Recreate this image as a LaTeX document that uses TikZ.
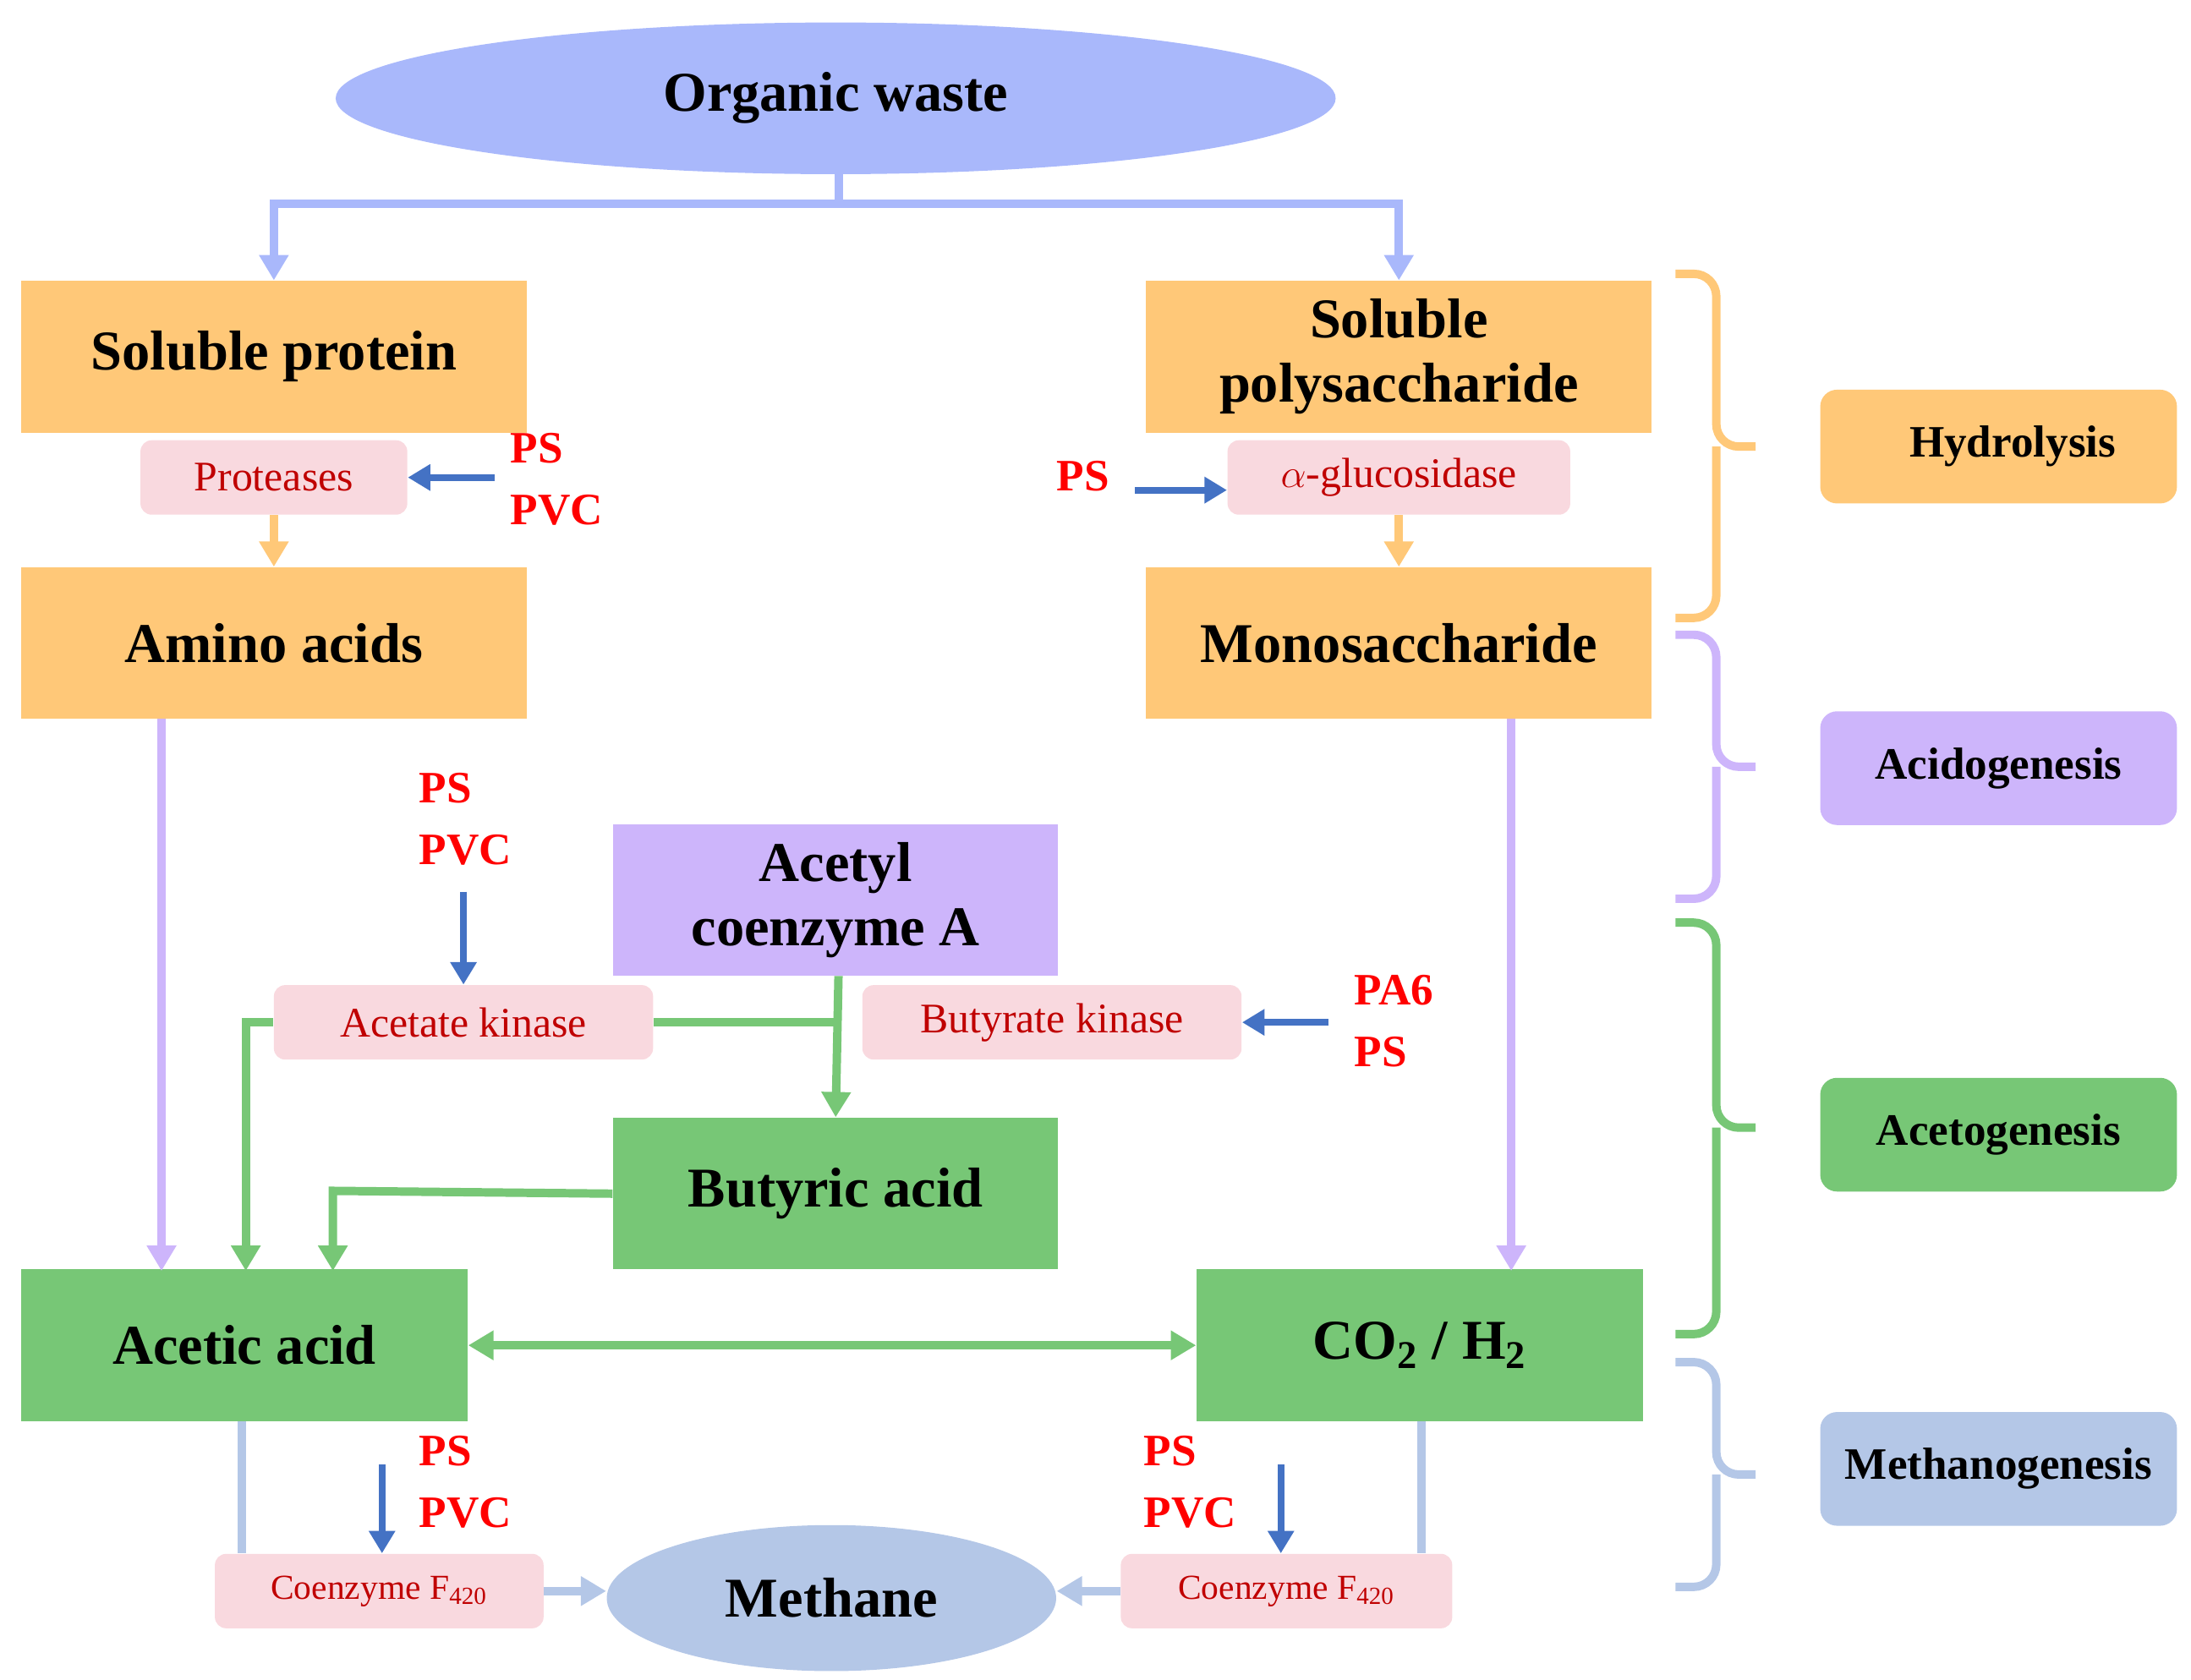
\documentclass[tikz,border=0pt]{standalone}
\usepackage{fontspec}
\setmainfont{Liberation Serif}
\usetikzlibrary{arrows.meta,shapes.geometric}
\definecolor{ow}{HTML}{A9B8FB}
\definecolor{org}{HTML}{FFC878}
\definecolor{pnk}{HTML}{F9D9DF}
\definecolor{drd}{HTML}{C00000}
\definecolor{blu}{HTML}{4472C4}
\definecolor{pur}{HTML}{CDB5FB}
\definecolor{grn}{HTML}{77C776}
\definecolor{lbl}{HTML}{B4C7E7}
\begin{document}
\begin{tikzpicture}[x=0.5pt,y=-0.5pt,
 box/.style={draw=none,inner sep=0pt,font=\fontsize{20}{23}\selectfont\bfseries,align=center},
 enz/.style={fill=pnk,rounded corners=4pt,inner sep=0pt,minimum height=26.5pt,text=drd,font=\fontsize{15}{18}\selectfont},
 mp/.style={text=red,font=\fontsize{16}{22}\selectfont\bfseries,align=left,anchor=north west,inner sep=0pt},
 lab/.style={rounded corners=6pt,inner sep=0pt,minimum width=127pt,minimum height=40.5pt,font=\fontsize{16}{19}\selectfont\bfseries},
 ar/.style={line width=3pt,-{Triangle[length=9pt,width=10pt]}},
 ba/.style={blu,line width=2.5pt,-{Triangle[length=8pt,width=9pt]}},
 br/.style={line width=3pt,rounded corners=8pt}]
\useasboundingbox (0,0) rectangle (1560,1196);
% top
\node[box,ellipse,fill=ow,minimum width=356pt,minimum height=54pt] (ow) at (595,70) {Organic waste};
\node[box,fill=org,minimum width=180pt,minimum height=54pt] (sp) at (195,254) {Soluble protein};
\node[box,fill=org,minimum width=180pt,minimum height=54pt] (sps) at (996,254) {Soluble\\polysaccharide};
\node[enz,minimum width=95pt] (prot) at (195,340) {Proteases};
\node[enz,minimum width=122pt] (glu) at (996,340) {$\alpha$-glucosidase};
\node[box,fill=org,minimum width=180pt,minimum height=54pt] (aa) at (195,458) {Amino acids};
\node[box,fill=org,minimum width=180pt,minimum height=54pt] (ms) at (996,458) {Monosaccharide};
\draw[ow,line width=3pt] (597,122) -- (597,145) coordinate (tj);
\draw[ow,ar] (tj) -| (sp.north);
\draw[ow,ar] (tj) -| (sps.north);
\draw[org,ar] (prot.south) -- (aa.north);
\draw[org,ar] (glu.south) -- (ms.north);
\node[mp] (p1) at (363,308) {PS\\PVC};
\coordinate (p1a) at (352,340);
\draw[ba] (p1a) -- (prot.east);
\node[mp] (p2) at (752,328) {PS};
\coordinate (p2a) at (808,349);
\draw[ba] (p2a) -- (glu.west|-p2a);
% middle
\node[box,fill=pur,minimum width=158.5pt,minimum height=54pt] (acoa) at (595,641) {Acetyl\\coenzyme A};
\node[enz,minimum width=135pt] (ak) at (330,728) {Acetate kinase};
\node[enz,minimum width=135pt] (bk) at (749,728) {Butyrate kinase};
\node[box,fill=grn,minimum width=158.5pt,minimum height=54pt] (ba) at (595,850) {Butyric acid};
\node[box,fill=grn,minimum width=159pt,minimum height=54pt] (ac) at (174,958) {Acetic acid};
\node[box,fill=grn,minimum width=159pt,minimum height=54pt] (co) at (1011,958) {CO\textsubscript{2} / H\textsubscript{2}};
\node[mp] (p3) at (298,550) {PS\\PVC};
\coordinate (p3a) at (330,635);
\draw[ba] (p3a) -- (ak.north);
\node[mp] (p4) at (964,694) {PA6\\PS};
\coordinate (p4a) at (946,728);
\draw[ba] (p4a) -- (bk.east);
\draw[pur,ar] (115,512) -- (115,905);
\draw[pur,ar] (1076,512) -- (1076,905);
\draw[grn,line width=3pt] (ak.east) -- (597,728);
\draw[grn,ar] (597,695) -- (ba.north);
\draw[grn,ar] (ak.west) -- (175,728) -- (175,905);
\draw[grn,ar] (ba.west) -- (237,848) -- (237,905);
\draw[grn,line width=3pt,{Triangle[length=9pt,width=10pt]}-{Triangle[length=9pt,width=10pt]}] (ac.east) -- (co.west);
% bottom
\node[box,ellipse,fill=lbl,minimum width=160pt,minimum height=52pt] (me) at (592,1138) {Methane};
\node[enz,minimum width=117pt,font=\fontsize{12.5}{15}\selectfont] (cf1) at (270,1133) {Coenzyme F\textsubscript{420}};
\node[enz,minimum width=118pt,font=\fontsize{12.5}{15}\selectfont] (cf2) at (916,1133) {Coenzyme F\textsubscript{420}};
\draw[lbl,line width=3pt] (172,1012) -- (172,1106);
\draw[lbl,line width=3pt] (1012,1012) -- (1012,1106);
\draw[lbl,ar] (cf1.east) -- (me.west|-cf1.east) ;
\draw[lbl,ar] (cf2.west) -- (me.east|-cf2.west);
\node[mp] (p5) at (298,1022) {PS\\PVC};
\coordinate (p5a) at (272,1043);
\draw[ba] (p5a) -- (cf1.north-|p5a);
\node[mp] (p6) at (814,1022) {PS\\PVC};
\coordinate (p6a) at (912,1043);
\draw[ba] (p6a) -- (cf2.north-|p6a);
% brackets
\draw[br,org] (1193,195) -| (1222,318) -- (1250,318);
\draw[br,org] (1222,318) |- (1193,440);
\draw[br,pur] (1193,452) -| (1222,546) -- (1250,546);
\draw[br,pur] (1222,546) |- (1193,640);
\draw[br,grn] (1193,657) -| (1222,803) -- (1250,803);
\draw[br,grn] (1222,803) |- (1193,950);
\draw[br,lbl] (1193,970) -| (1222,1050) -- (1250,1050);
\draw[br,lbl] (1222,1050) |- (1193,1130);
\node[lab,fill=org] (l1) at (1423,318) {\hspace*{10pt}Hydrolysis};
\node[lab,fill=pur] (l2) at (1423,547) {Acidogenesis};
\node[lab,fill=grn] (l3) at (1423,808) {Acetogenesis};
\node[lab,fill=lbl] (l4) at (1423,1046) {Methanogenesis};
\end{tikzpicture}
\end{document}
